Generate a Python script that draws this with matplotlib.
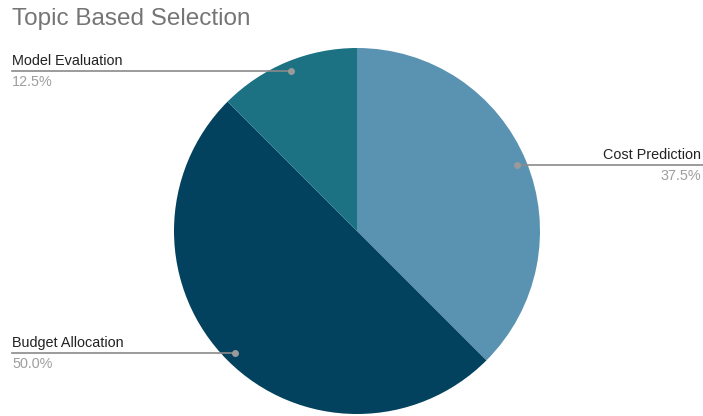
import numpy as np
import matplotlib
matplotlib.use('Agg')
import matplotlib.pyplot as plt

plt.rcParams['font.family'] = ['Liberation Sans', 'DejaVu Sans']

# Datos del gráfico
labels = ['Cost Prediction', 'Budget Allocation', 'Model Evaluation']
values = [37.5, 50.0, 12.5]
colors = ['#5a93b2', '#03425e', '#1c7282']

W, H = 703, 416
fig = plt.figure(figsize=(W / 100, H / 100), dpi=100)
ax = fig.add_axes([0, 0, 1, 1])

cx, cy, R = 357, H - 231, 183
wedges, _ = ax.pie(values, colors=colors, startangle=90, counterclock=False,
                   center=(cx, cy), radius=R, frame=True)
ax.set_xlim(0, W)
ax.set_ylim(0, H)
ax.set_aspect('equal')
ax.axis('off')

# Etiquetas con líneas guía
total = sum(values)
for w, lab, v in zip(wedges, labels, values):
    ang = np.deg2rad((w.theta1 + w.theta2) / 2)
    px = cx + 0.945 * R * np.cos(ang)
    py = cy + 0.945 * R * np.sin(ang)
    if np.cos(ang) > 0:
        x0, x1, tx, ha = px, W, W - 2, 'right'
    else:
        x0, x1, tx, ha = 12, px, 12, 'left'
    ax.plot([x0, x1], [py, py], color='#8a8a8a', lw=1.2)
    ax.plot(px, py, 'o', color='#9a9a9a', ms=4)
    ax.text(tx, py + 3, lab, ha=ha, va='bottom', fontsize=10.4, color='#222222')
    ax.text(tx, py - 4, f'{v / total * 100:.1f}%', ha=ha, va='top',
            fontsize=10.4, color='#9e9e9e')

fig.text(12 / W, 1 - 19 / H, 'Topic Based Selection', ha='left', va='center',
         fontsize=17.5, color='#757575')

fig.savefig('out.png', dpi=100)
